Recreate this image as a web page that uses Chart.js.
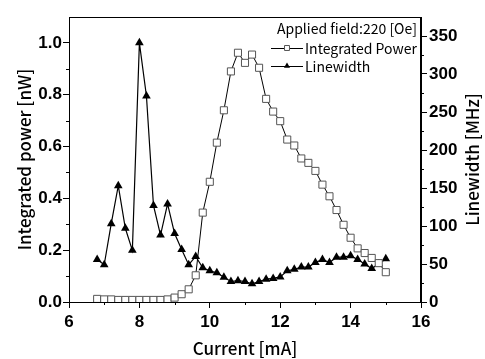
<!DOCTYPE html>
<html>
<head>
<meta charset="utf-8">
<script src="https://cdn.jsdelivr.net/npm/chart.js@4/dist/chart.umd.min.js"></script>
<style>
html, body { margin: 0; padding: 0; background: #fff; }
#wrap { width: 485px; height: 359px; }
</style>
</head>
<body>
<div id="wrap"><canvas id="chart1"></canvas></div>
<script>
// data
var current = [6.8, 7.0, 7.2, 7.4, 7.6, 7.8, 8.0, 8.2, 8.4, 8.6, 8.8, 9.0, 9.2, 9.4,
               9.6, 9.8, 10.0, 10.2, 10.4, 10.6, 10.8, 11.0, 11.2, 11.4, 11.6, 11.8, 12.0, 12.2,
               12.4, 12.6, 12.8, 13.0, 13.2, 13.4, 13.6, 13.8, 14.0, 14.2, 14.4, 14.6, 14.8, 15.0];
var power = [0.012, 0.010, 0.010, 0.008, 0.008, 0.008, 0.008, 0.008, 0.008, 0.008, 0.010, 0.017, 0.030, 0.049,
             0.103, 0.345, 0.464, 0.615, 0.740, 0.890, 0.962, 0.923, 0.955, 0.904, 0.784, 0.735, 0.698, 0.627,
             0.604, 0.554, 0.537, 0.506, 0.453, 0.408, 0.355, 0.298, 0.248, 0.207, 0.189, 0.170, 0.150, 0.115];
var linewidth = [56, 49, 103, 153, 97, 68, 341, 271, 127, 88, 129, 90, 69, 49,
                 60, 45, 41, 38.5, 32.5, 27, 28, 27, 24, 27, 30, 31, 33, 41,
                 43, 46, 46, 52, 56, 52, 59, 59, 61, 56, 50, 44, 50, 57];

var xTicks = [6, 8, 10, 12, 14, 16];
var xMinor = [7, 9, 11, 13, 15];
var powerTicks = [0, 0.2, 0.4, 0.6, 0.8, 1.0];
var powerMinor = [0.1, 0.3, 0.5, 0.7, 0.9];
var widthTicks = [0, 50, 100, 150, 200, 250, 300, 350];
var widthMinor = [25, 75, 125, 175, 225, 275, 325];

var fieldLabel = 'Applied field:220 [Oe]';
var seriesNames = ['Integrated Power', 'Linewidth'];

var tickFont = { family: "'Liberation Sans', Arial, sans-serif", size: 17, weight: 'bold' };
var titleFamily = "'Noto Sans CJK JP', 'Noto Sans', sans-serif";

function toPoints(ys) {
    return current.map(function(x, i) { return { x: x, y: ys[i] }; });
}

function fixTicks(list) {
    return function(scale) {
        scale.ticks = list.map(function(v) { return { value: v }; });
    };
}

// box, minor ticks, right title and legend
var extras = {
    id: 'extras',
    afterDraw: function(chart) {
        var c = chart.ctx, a = chart.chartArea;
        var sx = chart.scales.x, sl = chart.scales.yP, sr = chart.scales.yW;
        c.save();
        c.strokeStyle = '#000';
        c.lineWidth = 1;
        c.strokeRect(a.left + 0.5, a.top + 0.5, a.right - a.left - 1, a.bottom - a.top);

        c.beginPath();
        xMinor.forEach(function(v) {
            var px = Math.round(sx.getPixelForValue(v)) + 0.5;
            c.moveTo(px, a.bottom); c.lineTo(px, a.bottom + 3);
        });
        powerMinor.forEach(function(v) {
            var py = Math.round(sl.getPixelForValue(v)) + 0.5;
            c.moveTo(a.left, py); c.lineTo(a.left - 3, py);
        });
        widthMinor.forEach(function(v) {
            var py = Math.round(sr.getPixelForValue(v)) + 0.5;
            c.moveTo(a.right, py); c.lineTo(a.right + 3, py);
        });
        c.stroke();

        // right axis title, reading bottom to top
        c.fillStyle = '#000';
        c.font = '500 17px ' + titleFamily;
        c.textAlign = 'center';
        c.textBaseline = 'middle';
        c.translate(473, (a.top + a.bottom) / 2);
        c.rotate(-Math.PI / 2);
        c.fillText('Linewidth [MHz]', 0, 0);
        c.restore();

        // legend
        c.save();
        c.fillStyle = '#000';
        c.font = '14px ' + titleFamily;
        c.textBaseline = 'middle';
        c.textAlign = 'right';
        c.fillText(fieldLabel, a.right - 4, a.top + 12);
        c.textAlign = 'left';
        var rows = [a.top + 31, a.top + 49];
        chart.data.datasets.forEach(function(ds, i) {
            var y = rows[i];
            c.strokeStyle = '#000';
            c.lineWidth = 1;
            c.beginPath();
            c.moveTo(a.right - 150, y + 0.5);
            c.lineTo(a.right - 118, y + 0.5);
            c.stroke();
            c.fillStyle = ds.pointBackgroundColor;
            c.strokeStyle = ds.pointBorderColor;
            Chart.helpers.drawPoint(c, {
                pointStyle: ds.pointStyle,
                radius: 3.5,
                borderWidth: ds.pointBorderWidth
            }, a.right - 134, y);
            c.fillStyle = '#000';
            c.fillText(ds.label, a.right - 116, y + 1);
        });
        c.restore();
    }
};

var ctx = document.getElementById('chart1').getContext('2d');

var myChart = new Chart(ctx, {
    type: 'line',
    data: {
        datasets: [{
            label: seriesNames[0],
            data: toPoints(power),
            yAxisID: 'yP',
            borderColor: '#000',
            borderWidth: 1,
            pointStyle: 'rect',
            pointRadius: 5,
            pointBorderColor: '#555',
            pointBackgroundColor: '#fff',
            pointBorderWidth: 1,
            tension: 0
        }, {
            label: seriesNames[1],
            data: toPoints(linewidth),
            yAxisID: 'yW',
            borderColor: '#000',
            borderWidth: 1.2,
            pointStyle: 'triangle',
            pointRadius: 5,
            pointBorderColor: '#000',
            pointBackgroundColor: '#000',
            pointBorderWidth: 0,
            tension: 0
        }]
    },
    options: {
        responsive: true,
        maintainAspectRatio: false,
        animation: false,
        layout: { padding: { top: 17, left: 0, right: 0, bottom: 0 } },
        plugins: {
            legend: { display: false },
            tooltip: { enabled: false }
        },
        scales: {
            x: {
                type: 'linear',
                min: 6,
                max: 16,
                afterBuildTicks: fixTicks(xTicks),
                afterFit: function(s) { s.height = 57; },
                grid: { drawOnChartArea: false, tickLength: 6, color: '#000' },
                border: { display: true, color: '#000' },
                ticks: { color: '#000', font: tickFont, padding: 4, maxRotation: 0 },
                title: {
                    display: true,
                    text: 'Current [mA]',
                    color: '#000',
                    font: { family: titleFamily, size: 17, weight: '500' },
                    padding: { top: 0, bottom: 0 }
                }
            },
            yP: {
                type: 'linear',
                position: 'left',
                min: 0,
                max: 1.1,
                afterBuildTicks: fixTicks(powerTicks),
                afterFit: function(s) { s.width = 69; },
                grid: { drawOnChartArea: false, tickLength: 6, color: '#000' },
                border: { display: true, color: '#000' },
                ticks: {
                    color: '#000', font: tickFont, padding: 1,
                    callback: function(v) { return v.toFixed(1); }
                },
                title: {
                    display: true,
                    text: 'Integrated power [nW]',
                    color: '#000',
                    font: { family: titleFamily, size: 17, weight: '500' },
                    padding: { top: 14, bottom: 0 }
                }
            },
            yW: {
                type: 'linear',
                position: 'right',
                min: 0,
                max: 375,
                afterBuildTicks: fixTicks(widthTicks),
                afterFit: function(s) { s.width = 64; },
                grid: { drawOnChartArea: false, tickLength: 6, color: '#000' },
                border: { display: true, color: '#000' },
                ticks: { color: '#000', font: tickFont, padding: 2 }
            }
        }
    },
    plugins: [extras]
});
</script>
</body>
</html>
